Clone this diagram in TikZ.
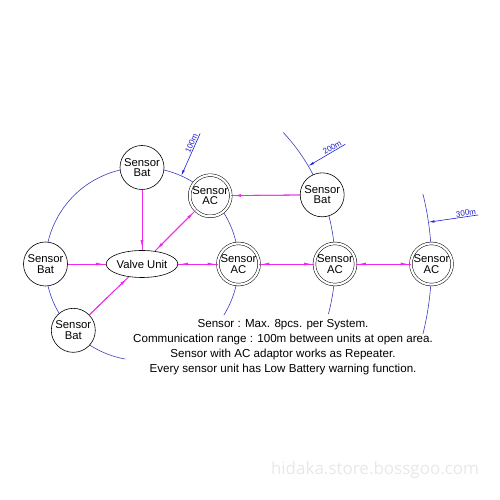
\documentclass[tikz,border=0pt]{standalone}
\usepackage{fontspec}
\setmainfont{Liberation Sans}
\newfontfamily\wmfont{Open Sans}
\usetikzlibrary{shapes.geometric,arrows.meta}
\definecolor{mag}{RGB}{238,40,238}
\definecolor{arcblue}{RGB}{60,60,190}
\definecolor{dimblue}{RGB}{30,30,210}
\begin{document}
\begin{tikzpicture}[x=1pt,y=1pt,
  every node/.style={inner sep=0pt},
  batnode/.style={circle, draw=black, line width=0.6pt, fill=white, minimum size=44pt, align=center, font=\fontsize{11.3}{10.5}\selectfont},
  acnode/.style={circle, draw=black, line width=0.5pt, double=white, double distance=2.2pt, fill=white, minimum size=41.2pt, align=center, font=\fontsize{11.3}{10.5}\selectfont},
  valvenode/.style={ellipse, draw=black, line width=0.6pt, fill=white, minimum width=64pt, minimum height=27pt, font=\fontsize{11.3}{12}\selectfont},
  arcline/.style={draw=arcblue, line width=0.6pt},
  magline/.style={draw=mag, line width=0.8pt},
  magtip/.style={magline, shorten >=3pt, -{Latex[length=7pt,width=3pt]}},
  magboth/.style={magline, shorten >=3pt, shorten <=3pt, {Latex[length=7pt,width=3pt]}-{Latex[length=7pt,width=3pt]}},
  dimline/.style={draw=dimblue, line width=0.6pt, -{Latex[length=6pt,width=2.4pt]}},
  dimtext/.style={text=dimblue, font=\fontsize{8}{8}\selectfont, anchor=south, inner sep=0.8pt},
  desctext/.style={align=center, font=\fontsize{11.6}{15}\selectfont},
  wmark/.style={text=black!9, font=\wmfont\fontsize{17}{17}\selectfont}
]
\useasboundingbox (0,0) rectangle (500,500);
\coordinate (O) at (142,236);
% range arcs
\draw[arcline] ([shift={(-32:96.5)}]O) arc[start angle=-32, end angle=260, radius=96.5];
\draw[arcline] ([shift={(-15:193)}]O) arc[start angle=-15, end angle=43, radius=193];
\draw[arcline] ([shift={(-14:289.5)}]O) arc[start angle=-14, end angle=14, radius=289.5];
% nodes
\node[valvenode] (valve) at (O) {Valve Unit};
\node[batnode] (batT) at ([shift={(90:96.5)}]O) {Sensor\\Bat};
\node[batnode] (batL) at ([shift={(180:96.5)}]O) {Sensor\\Bat};
\node[batnode] (batB) at ([shift={(224:95.5)}]O) {Sensor\\Bat};
\node[acnode] (acU) at ([shift={(45:96.5)}]O) {Sensor\\AC};
\node[acnode] (ac1) at ([shift={(0:96.5)}]O) {Sensor\\AC};
\node[batnode] (batR) at ([shift={(21:193)}]O) {Sensor\\Bat};
\node[acnode] (ac2) at ([shift={(0:193)}]O) {Sensor\\AC};
\node[acnode] (ac3) at ([shift={(0:289.5)}]O) {Sensor\\AC};
% magenta links
\draw[magline] (batT) -- (valve);
\draw[magtip] (batT) -- (valve);
\draw[magline] (batL) -- (valve);
\draw[magtip] (batL) -- (valve);
\draw[magline] (batB) -- (valve);
\draw[magtip] (batB) -- (valve);
\draw[magline] (batR) -- (acU);
\draw[magtip] (batR) -- (acU);
\draw[magline] (valve) -- (acU);
\draw[magboth] (valve) -- (acU);
\draw[magline] (valve) -- (ac1);
\draw[magboth] (valve) -- (ac1);
\draw[magline] (ac1) -- (ac2);
\draw[magboth] (ac1) -- (ac2);
\draw[magline] (ac2) -- (ac3);
\draw[magboth] (ac2) -- (ac3);
% dimension leaders
\coordinate (d1a) at ([shift={(66:143)}]O);
\coordinate (d1b) at ([shift={(66:96.5)}]O);
\draw[dimline] (d1a) -- (d1b);
\node[dimtext, rotate=66] (t1) at ([shift={(66:130)}]O) {100m};
\coordinate (d2a) at ([shift={(30.5:236)}]O);
\coordinate (d2b) at ([shift={(30.5:193)}]O);
\draw[dimline] (d2a) -- (d2b);
\node[dimtext, rotate=30.5] (t2) at ([shift={(30.5:223)}]O) {200m};
\coordinate (d3a) at ([shift={(8.3:340)}]O);
\coordinate (d3b) at ([shift={(8.3:289.5)}]O);
\draw[dimline] (d3a) -- (d3b);
\node[dimtext, rotate=8.3] (t3) at ([shift={(8.3:328)}]O) {300m};
% description
\node[desctext] (desc) at (283,153) {Sensor : Max. 8pcs. per System.\\Communication range : 100m between units at open area.\\Sensor with AC adaptor works as Repeater.\\Every sensor unit has Low Battery warning function.};
% watermark
\node[wmark] (wm) at (375,30) {hidaka.store.bossgoo.com};
\end{tikzpicture}
\end{document}
